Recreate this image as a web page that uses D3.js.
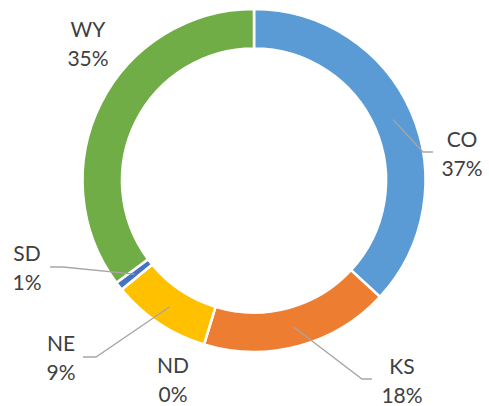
<!DOCTYPE html>
<html>
<head>
<meta charset="utf-8">
<script src="https://cdn.jsdelivr.net/npm/d3@7"></script>
<style>
  html, body { margin: 0; padding: 0; background: #fff; }
  svg { display: block; }
</style>
</head>
<body>
<svg id="chart" width="489" height="406"></svg>
<script>
// ---- data ----
const categories = ["CO", "KS", "ND", "NE", "SD", "WY"];
const values = [36.8, 17.8, 0, 9.3, 0.8, 35.1];
const colors = ["#5B9BD5", "#ED7D31", "#A5A5A5", "#FFC000", "#4472C4", "#70AD47"];

// ---- layout (label anchor positions: [textCenterX, firstBaselineY], leader elbow & end) ----
const labelLayout = {
  CO: { x: 462, y: 147, elbow: [423, 152], end: [433, 152] },
  KS: { x: 402, y: 374, elbow: [362, 379], end: [372, 379] },
  ND: { x: 173, y: 373, elbow: null, end: null },
  NE: { x: 61,  y: 351, elbow: [96, 357],  end: [83, 357] },
  SD: { x: 27,  y: 261, elbow: [63, 267],  end: [50, 267] },
  WY: { x: 88,  y: 37,  elbow: null, end: null }
};

const cx = 254, cy = 180.5, rOuter = 171.5, rInner = 132;

const svg = d3.select("#chart");
const g = svg.append("g").attr("transform", `translate(${cx},${cy})`);

const data = categories.map((c, i) => ({ cat: c, value: values[i], color: colors[i] }));
const total = d3.sum(values);

const pie = d3.pie().value(d => d.value).sort(null).startAngle(0).endAngle(2 * Math.PI);
const arcs = pie(data);

const arc = d3.arc().innerRadius(rInner).outerRadius(rOuter);
const midArc = d3.arc().innerRadius((rInner + rOuter) / 2).outerRadius((rInner + rOuter) / 2);

g.selectAll("path.slice")
  .data(arcs.filter(a => a.data.value > 0))
  .enter().append("path")
  .attr("class", "slice")
  .attr("d", arc)
  .attr("fill", d => d.data.color)
  .attr("stroke", "#fff")
  .attr("stroke-width", 2.6)
  .attr("stroke-linejoin", "miter");

// leader lines
const lines = svg.append("g");
arcs.forEach(a => {
  const L = labelLayout[a.data.cat];
  if (!L.elbow) return;
  const c = midArc.centroid(a);
  const p0 = [c[0] + cx, c[1] + cy];
  lines.append("polyline")
    .attr("points", [p0, L.elbow, L.end].map(p => p.join(",")).join(" "))
    .attr("fill", "none")
    .attr("stroke", "#A6A6A6")
    .attr("stroke-width", 1.3);
});

// labels
const fmt = v => Math.round(v / total * 100) + "%";
const labels = svg.append("g")
  .attr("font-family", "Lato, 'Open Sans', sans-serif")
  .attr("font-size", 21)
  .attr("fill", "#404040")
  .attr("text-anchor", "middle");
arcs.forEach(a => {
  const L = labelLayout[a.data.cat];
  const t = labels.append("text").attr("x", L.x).attr("y", L.y);
  t.append("tspan").attr("x", L.x).attr("y", L.y).text(a.data.cat);
  t.append("tspan").attr("x", L.x).attr("y", L.y + 28.5).text(fmt(a.data.value));
});
</script>
</body>
</html>
